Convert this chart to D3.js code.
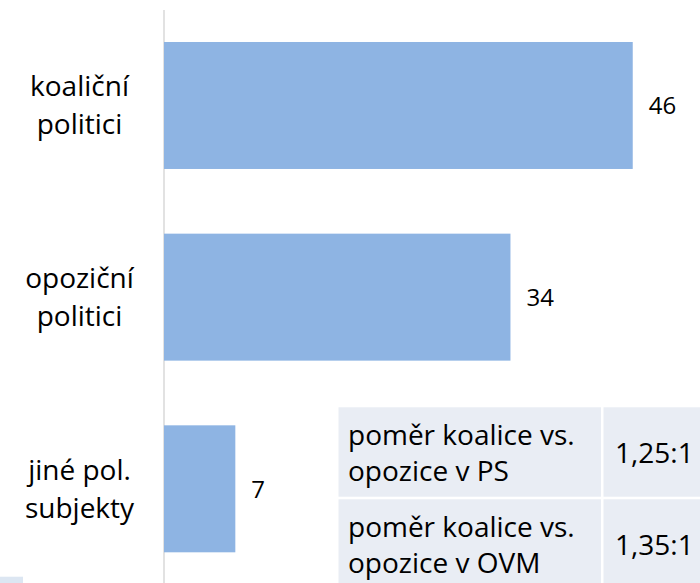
<!DOCTYPE html>
<html>
<head>
<meta charset="utf-8">
<script src="https://cdn.jsdelivr.net/npm/d3@7"></script>
<style>
  html, body { margin: 0; padding: 0; background: #ffffff; }
  svg { display: block; }
  text { font-family: "Open Sans", sans-serif; fill: #000; }
</style>
</head>
<body>
<svg id="chart" width="700" height="583"></svg>
<script>
// ---- data ----
const categories = ["koaliční politici", "opoziční politici", "jiné pol. subjekty"];
const categoryLines = [["koaliční", "politici"], ["opoziční", "politici"], ["jiné pol.", "subjekty"]];
const values = [46, 34, 7];
const tableLabels = [["poměr koalice vs.", "opozice v PS"], ["poměr koalice vs.", "opozice v OVM"]];
const tableValues = ["1,25:1", "1,35:1"];

// ---- layout ----
const svg = d3.select("#chart");
const barColor = "#8eb4e3";

const x = d3.scaleLinear().domain([0, 50]).range([164, 673.5]);
const y = d3.scaleBand().domain(categories).range([9.6, 584.7]).paddingInner(0.3375).paddingOuter(0.169);

// axis (vertical line only)
const axisG = svg.append("g")
  .attr("transform", "translate(163.5,0)")
  .call(d3.axisLeft(y).tickSize(0).tickSizeOuter(0).tickFormat(""));
axisG.select(".domain").attr("stroke", "#d9d9d9").attr("stroke-width", 1.5);

// bars
svg.append("g").selectAll("rect")
  .data(categories)
  .join("rect")
  .attr("x", x(0))
  .attr("y", d => y(d))
  .attr("width", (d, i) => x(values[i]) - x(0))
  .attr("height", y.bandwidth())
  .attr("fill", barColor);

// value labels
svg.append("g").selectAll("text")
  .data(categories)
  .join("text")
  .attr("x", (d, i) => x(values[i]) + 16)
  .attr("y", d => y(d) + y.bandwidth() / 2 + 9)
  .attr("font-size", 24)
  .text((d, i) => values[i]);

// category labels
const catG = svg.append("g");
categories.forEach((c, i) => {
  const cy = y(c) + y.bandwidth() / 2;
  const t = catG.append("text")
    .attr("text-anchor", "middle")
    .attr("font-size", 28);
  categoryLines[i].forEach((ln, j) => {
    t.append("tspan").attr("x", 79.5).attr("y", cy - 9 + j * 38).text(ln);
  });
});

// table
const tbl = svg.append("g");
const rowTops = [407.3, 499.3];
const rowH = 89.4;
const col1 = [338.5, 601];
const col2 = [603.5, 720];
const cellFill = "#e9edf4";
tableLabels.forEach((lines, r) => {
  const top = rowTops[r];
  tbl.append("rect").attr("x", col1[0]).attr("y", top).attr("width", col1[1] - col1[0]).attr("height", rowH).attr("fill", cellFill);
  tbl.append("rect").attr("x", col2[0]).attr("y", top).attr("width", col2[1] - col2[0]).attr("height", rowH).attr("fill", cellFill);
  const t = tbl.append("text").attr("font-size", 28);
  lines.forEach((ln, j) => {
    t.append("tspan").attr("x", 348).attr("y", top + 37.5 + j * 36).text(ln);
  });
  tbl.append("text").attr("font-size", 28)
    .attr("x", 615).attr("y", top + 56)
    .text(tableValues[r]);
});

// small corner mark
svg.append("rect").attr("x", 0).attr("y", 576.7).attr("width", 23).attr("height", 7).attr("fill", "#dce6f2");
</script>
</body>
</html>
